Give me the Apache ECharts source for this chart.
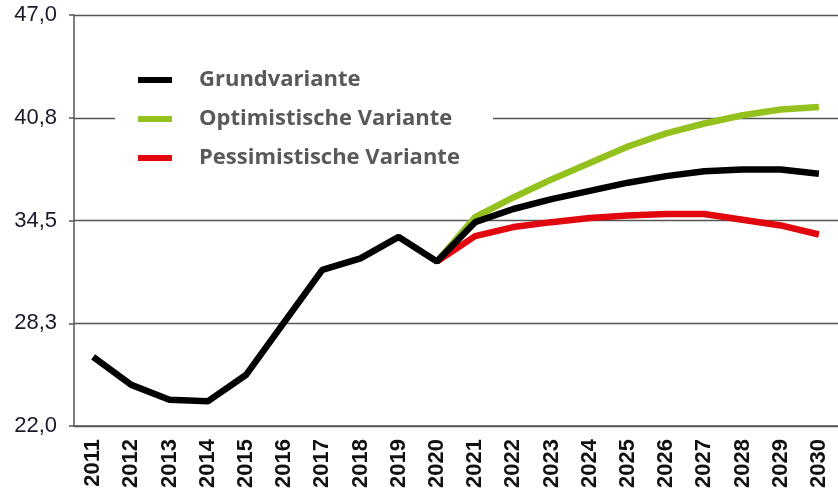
<!DOCTYPE html>
<html>
<head>
<meta charset="utf-8">
<script src="https://cdn.jsdelivr.net/npm/echarts@6/dist/echarts.min.js"></script>
<style>
html,body{margin:0;padding:0;background:#fff;}
#chart{width:838px;height:496px;}
</style>
</head>
<body>
<div id="chart"></div>
<script>
const years = ['2011','2012','2013','2014','2015','2016','2017','2018','2019','2020',
               '2021','2022','2023','2024','2025','2026','2027','2028','2029','2030'];
const grundvariante = [26.2, 24.5, 23.6, 23.5, 25.1, 28.3, 31.5, 32.2, 33.5, 32.0,
                       34.4, 35.2, 35.8, 36.3, 36.8, 37.2, 37.5, 37.6, 37.6, 37.35];
const optimistisch = [null, null, null, null, null, null, null, null, null, 32.0,
                      34.7, 35.9, 37.0, 38.0, 39.0, 39.8, 40.4, 40.9, 41.25, 41.4];
const pessimistisch = [null, null, null, null, null, null, null, null, null, 32.0,
                       33.55, 34.1, 34.4, 34.65, 34.8, 34.9, 34.9, 34.55, 34.2, 33.65];
const yTicks = [22, 28.25, 34.5, 40.75, 47];
const seriesNames = ['Grundvariante', 'Optimistische Variante', 'Pessimistische Variante'];

const chart = echarts.init(document.getElementById('chart'));
chart.setOption({
  animation: false,
  backgroundColor: '#fff',
  grid: {left: 74, right: -3, top: 15, bottom: 70},
  legend: {
    orient: 'vertical',
    left: 115,
    top: 58,
    padding: [10, 33, 8, 23],
    backgroundColor: '#fff',
    itemGap: 15,
    itemWidth: 34,
    itemHeight: 6,
    icon: 'rect',
    data: seriesNames,
    textStyle: {
      fontFamily: 'Open Sans',
      fontWeight: 'bold',
      fontSize: 22,
      lineHeight: 24,
      color: '#595959',
      padding: [0, 0, 0, 22]
    }
  },
  xAxis: {
    type: 'category',
    data: years,
    boundaryGap: true,
    axisLine: {lineStyle: {color: '#555', width: 1.5}},
    axisTick: {length: 5, lineStyle: {color: '#555', width: 1.5}},
    axisLabel: {
      rotate: 90,
      margin: 13,
      fontFamily: 'Liberation Sans',
      fontWeight: 'bold',
      fontSize: 22,
      color: '#111',
      interval: 0
    },
    splitLine: {show: false}
  },
  yAxis: {
    type: 'value',
    min: 22,
    max: 47,
    axisLine: {show: true, lineStyle: {color: '#555', width: 1.5}},
    axisTick: {show: true, length: 5, customValues: yTicks, lineStyle: {color: '#555', width: 1.5}},
    axisLabel: {
      customValues: yTicks,
      margin: 17,
      fontFamily: 'Liberation Sans',
      fontSize: 22,
      color: '#1a1a2a',
      formatter: v => v.toFixed(1).replace('.', ',')
    },
    splitLine: {show: true, lineStyle: {color: '#555', width: 1.4}}
  },
  series: [
    {
      name: seriesNames[0], type: 'line', data: grundvariante, z: 4,
      symbol: 'none', color: '#000',
      lineStyle: {color: '#000', width: 6.5}
    },
    {
      name: seriesNames[1], type: 'line', data: optimistisch, z: 2,
      symbol: 'none', color: '#95c11f',
      lineStyle: {color: '#95c11f', width: 6.5}
    },
    {
      name: seriesNames[2], type: 'line', data: pessimistisch, z: 3,
      symbol: 'none', color: '#e2070f',
      lineStyle: {color: '#e2070f', width: 6.5}
    }
  ]
});
</script>
</body>
</html>
